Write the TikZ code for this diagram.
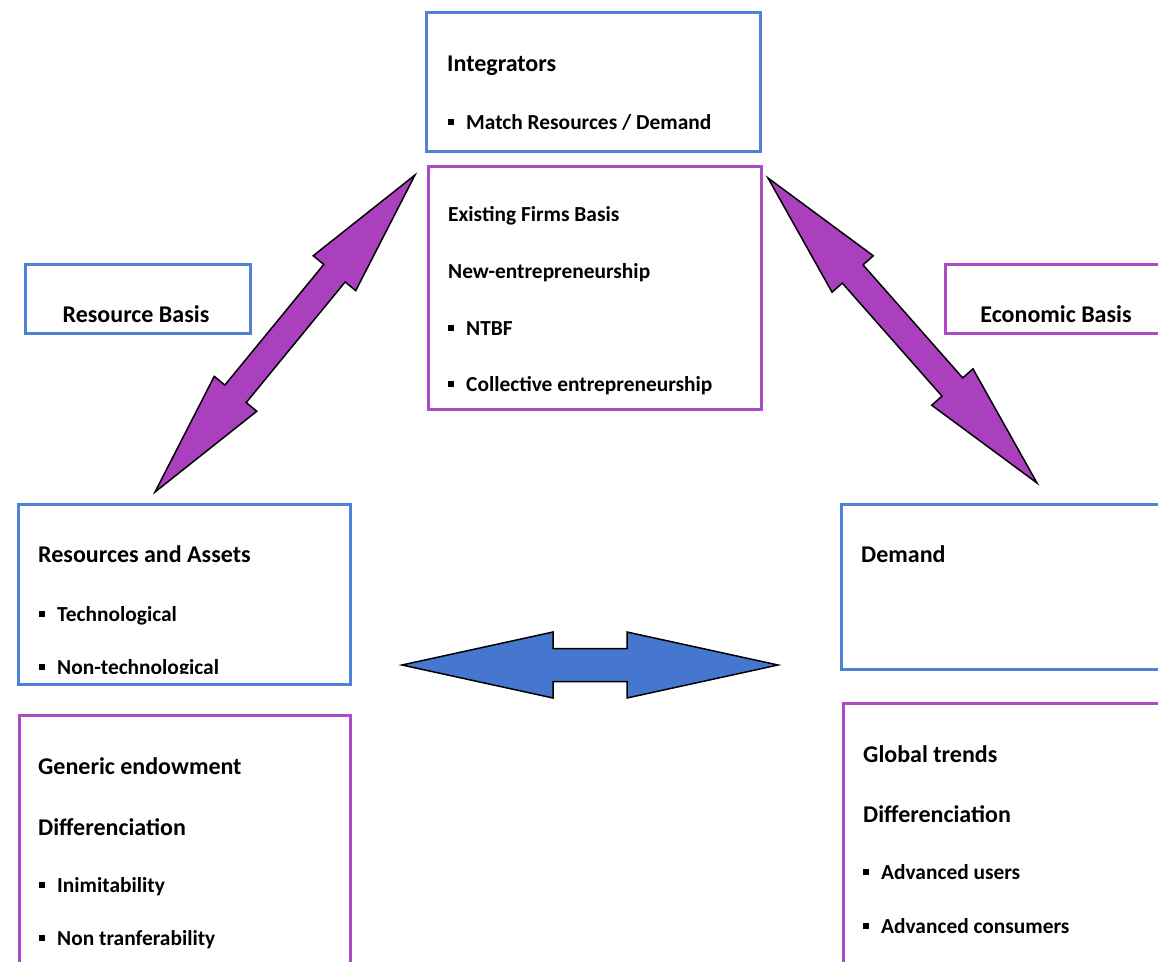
\documentclass[tikz,border=0pt]{standalone}
\usepackage{fontspec}
\setmainfont{Carlito}
\usetikzlibrary{calc}

\definecolor{boxblue}{HTML}{4F81D4}
\definecolor{boxpurple}{HTML}{AE4AC6}
\definecolor{arrowblue}{HTML}{4677CF}
\definecolor{arrowpurple}{HTML}{AB40BF}

\newcommand{\sqbullet}{\rule[4.5pt]{6pt}{6pt}\hspace{12pt}}
% block arrow with a head at both ends: style, end, end, head length, head half width, shaft half width
\newcommand{\dblarrow}[6]{%
\draw[#1] (#2) -- ($(#2)!#4!(#3)!#5!90:(#3)$) -- ($(#2)!#4!(#3)!#6!90:(#3)$)
 -- ($(#3)!#4!(#2)!#6!-90:(#2)$) -- ($(#3)!#4!(#2)!#5!-90:(#2)$) -- (#3)
 -- ($(#3)!#4!(#2)!#5!90:(#2)$) -- ($(#3)!#4!(#2)!#6!90:(#2)$)
 -- ($(#2)!#4!(#3)!#6!-90:(#3)$) -- ($(#2)!#4!(#3)!#5!-90:(#3)$) -- cycle;}

\tikzset{
bluebox/.style={draw=boxblue, line width=3pt, anchor=north west, inner sep=0pt},
purplebox/.style={draw=boxpurple, line width=3pt, anchor=north west, inner sep=0pt},
txt/.style={anchor=base west, inner sep=0pt, font=\fontsize{21.4}{26}\selectfont\bfseries},
head/.style={txt, font=\fontsize{24}{28}\selectfont\bfseries},
}

\begin{document}
\begin{tikzpicture}[x=1pt,y=-1pt]
\clip (0,0) rectangle (1158,961);

% boxes
\node[bluebox, minimum width=334pt, minimum height=139pt] (intbox) at (425,11) {};
\node[purplebox, minimum width=333pt, minimum height=243pt] (firmbox) at (427,164.5) {};
\node[bluebox, minimum width=225pt, minimum height=69pt] (resbasis) at (23.5,262.5) {};
\node[purplebox, minimum width=240pt, minimum height=69pt] (ecobasis) at (943.5,262.5) {};
\node[bluebox, minimum width=332pt, minimum height=180pt] (resbox) at (16.5,502.5) {};
\node[purplebox, minimum width=331pt, minimum height=300pt] (endowbox) at (17.5,714) {};
\node[bluebox, minimum width=340pt, minimum height=165pt] (demandbox) at (839.5,502.5) {};
\node[purplebox, minimum width=340pt, minimum height=300pt] (trendbox) at (841.5,701.5) {};

% texts
\node[head] (integr) at (447,71) {Integrators};
\node[txt] (match) at (448,129) {\sqbullet Match Resources / Demand};
\node[txt] (exist) at (448,221) {Existing Firms Basis};
\node[txt] (newent) at (448,278) {New-entrepreneurship};
\node[txt] (ntbf) at (448,335) {\sqbullet NTBF};
\node[txt] (collect) at (448,391) {\sqbullet Collective entrepreneurship};
\node[head, anchor=base] (restitle) at (136,322) {Resource Basis};
\node[head, anchor=base] (ecotitle) at (1056,322) {Economic Basis};
\node[head] (assets) at (38,562) {Resources and Assets};
\node[txt] (techno) at (39,621) {\sqbullet Technological};
\begin{scope}
\clip (18,600) rectangle (347,673);
\node[txt] (nontechno) at (39,674) {\sqbullet Non-technological};
\end{scope}
\node[head] (generic) at (38,774) {Generic endowment};
\node[head] (diffl) at (38,835) {Differenciation};
\node[txt] (inimit) at (39,892) {\sqbullet Inimitability};
\node[txt] (nontransf) at (39,945) {\sqbullet Non tranferability};
\node[head] (demand) at (861,562) {Demand};
\node[head] (global) at (863,762) {Global trends};
\node[head] (diffr) at (863,822) {Differenciation};
\node[txt] (users) at (863,879) {\sqbullet Advanced users};
\node[txt] (consum) at (863,933) {\sqbullet Advanced consumers};

% arrows
\coordinate (lfoot) at (155,492);
\coordinate (ltop) at (415,175);
\coordinate (rtop) at (768,178);
\coordinate (rfoot) at (1037,483);
\coordinate (mleft) at (402,665);
\coordinate (mright) at (778,665);
\dblarrow{fill=arrowpurple, draw=black, line width=1.5pt, line join=miter}{lfoot}{ltop}{127pt}{27.5pt}{13.8pt}
\dblarrow{fill=arrowpurple, draw=black, line width=1.5pt, line join=miter}{rtop}{rfoot}{128pt}{27.5pt}{13.8pt}
\dblarrow{fill=arrowblue, draw=black, line width=1.5pt, line join=miter}{mleft}{mright}{151pt}{33pt}{16.5pt}
\end{tikzpicture}
\end{document}
